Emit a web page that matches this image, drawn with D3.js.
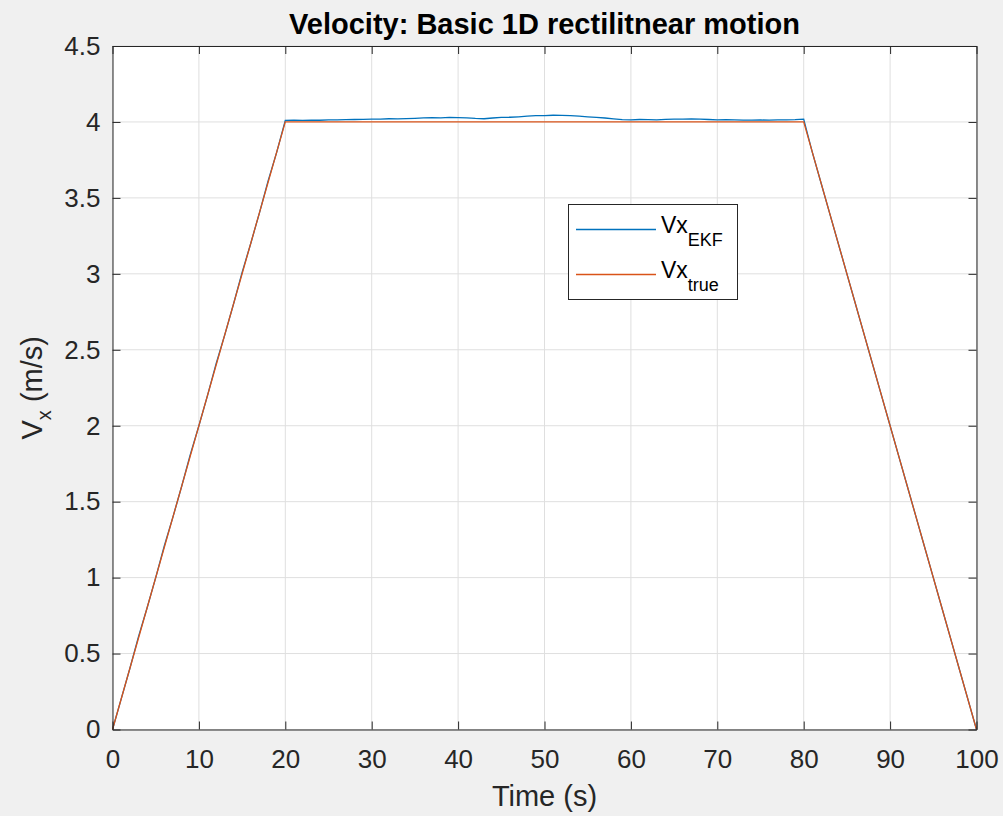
<!DOCTYPE html>
<html><head><meta charset="utf-8">
<script src="https://cdn.jsdelivr.net/npm/d3@7"></script>
<style>body{margin:0;background:#f0f0f0;} svg{display:block;} text{font-family:"Liberation Sans",Arial,sans-serif;}</style>
</head><body><svg id="c" width="1003" height="816"></svg>
<script>
const xTicks = [0,10,20,30,40,50,60,70,80,90,100];
const yTicks = [0,0.5,1,1.5,2,2.5,3,3.5,4,4.5];
const yTickLabels = ["0","0.5","1","1.5","2","2.5","3","3.5","4","4.5"];
const trueTime = [0,20,80,100];
const trueVx = [0,4,4,0];
const ekfTime = d3.range(0,101);
const ekfVx = [
 0.00,0.20,0.40,0.61,0.80,1.00,1.21,1.40,1.60,1.81,2.00,2.20,2.41,2.60,2.80,3.01,3.20,3.40,3.61,3.80,4.01,
 4.011,4.010,4.012,4.011,4.013,4.014,4.015,4.016,4.017,4.018,4.019,4.021,4.020,4.022,4.024,4.027,4.028,4.027,4.030,4.029,
 4.027,4.023,4.021,4.026,4.030,4.031,4.034,4.038,4.041,4.042,4.044,4.043,4.041,4.038,4.034,4.030,4.026,4.020,4.015,4.014,
 4.016,4.015,4.014,4.017,4.018,4.019,4.020,4.018,4.016,4.014,4.015,4.013,4.012,4.012,4.013,4.012,4.013,4.014,4.015,4.018,
 3.80,3.60,3.40,3.20,3.00,2.80,2.60,2.40,2.20,2.00,1.80,1.60,1.40,1.20,1.00,0.80,0.60,0.40,0.20,0.00];
const legendLabels = [["Vx","EKF"],["Vx","true"]];
const colors = ["#0072BD","#D95319"];

const svg = d3.select("#c");
const L=112.5, R=976.5, T=46, B=729.5;
const x = d3.scaleLinear().domain([0,100]).range([L,R]);
const y = d3.scaleLinear().domain([0,4.5]).range([B,T]);
const axCol="#262626", gridCol="#dfdfdf";

svg.append("rect").attr("width",1003).attr("height",816).attr("fill","#f0f0f0");
svg.append("rect").attr("x",L).attr("y",T).attr("width",R-L).attr("height",B-T).attr("fill","#fff");

// grid
svg.append("g").selectAll("line").data(xTicks).join("line")
 .attr("x1",d=>x(d)).attr("x2",d=>x(d)).attr("y1",T).attr("y2",B).attr("stroke",gridCol).attr("stroke-width",1);
svg.append("g").selectAll("line").data(yTicks).join("line")
 .attr("y1",d=>y(d)).attr("y2",d=>y(d)).attr("x1",L).attr("x2",R).attr("stroke",gridCol).attr("stroke-width",1);

// lines
const line = d3.line().x(d=>x(d[0])).y(d=>y(d[1]));
svg.append("path").datum(ekfTime.map((t,i)=>[t,ekfVx[i]])).attr("d",line).attr("fill","none").attr("stroke",colors[0]).attr("stroke-width",1.3);
svg.append("path").datum(trueTime.map((t,i)=>[t,trueVx[i]])).attr("d",line).attr("fill","none").attr("stroke",colors[1]).attr("stroke-width",1.3);

// axes
const tl=8;
const xb = d3.axisBottom(x).tickValues(xTicks).tickSizeInner(-tl).tickSizeOuter(0).tickPadding(20);
const xt = d3.axisTop(x).tickValues(xTicks).tickSizeInner(-tl).tickSizeOuter(0).tickFormat("");
const yl = d3.axisLeft(y).tickValues(yTicks).tickSizeInner(-tl).tickSizeOuter(0).tickPadding(12).tickFormat((d,i)=>yTickLabels[i]);
const yr = d3.axisRight(y).tickValues(yTicks).tickSizeInner(-tl).tickSizeOuter(0).tickFormat("");
function style(g){g.selectAll("path").attr("stroke",axCol).attr("stroke-width",1);g.selectAll("line").attr("stroke",axCol);g.selectAll("text").attr("fill",axCol).attr("font-size",26).attr("font-family","Liberation Sans, Arial, sans-serif");}
svg.append("g").attr("transform",`translate(0,${B})`).call(xb).call(style);
svg.append("g").attr("transform",`translate(0,${T})`).call(xt).call(style);
svg.append("g").attr("transform",`translate(${L},0)`).call(yl).call(style);
svg.append("g").attr("transform",`translate(${R},0)`).call(yr).call(style);

// title & labels
svg.append("text").attr("x",(L+R)/2).attr("y",34).attr("text-anchor","middle").attr("font-weight","bold").attr("font-size",29).attr("fill","#000").text("Velocity: Basic 1D rectilitnear motion");
svg.append("text").attr("x",(L+R)/2).attr("y",806).attr("text-anchor","middle").attr("font-size",29).attr("fill",axCol).text("Time (s)");
const yt = svg.append("text").attr("transform",`translate(42,${(T+B)/2}) rotate(-90)`).attr("text-anchor","middle").attr("font-size",29).attr("fill",axCol);
yt.append("tspan").text("V");
yt.append("tspan").attr("font-size",20).attr("dy",9).text("x");
yt.append("tspan").attr("dy",-9).text(" (m/s)");

// legend
const lg = svg.append("g");
lg.append("rect").attr("x",568.5).attr("y",204.5).attr("width",169).attr("height",95).attr("fill","#fff").attr("stroke",axCol).attr("stroke-width",1);
legendLabels.forEach((lab,i)=>{
  const yy = 229.5 + i*45;
  lg.append("line").attr("x1",576).attr("x2",656).attr("y1",yy).attr("y2",yy).attr("stroke",colors[i]).attr("stroke-width",1.3);
  const t = lg.append("text").attr("x",661).attr("y",yy+3).attr("font-size",23).attr("fill","#000");
  t.append("tspan").text(lab[0]);
  t.append("tspan").attr("font-size",18).attr("dy",13).text(lab[1]);
});
</script></body></html>
